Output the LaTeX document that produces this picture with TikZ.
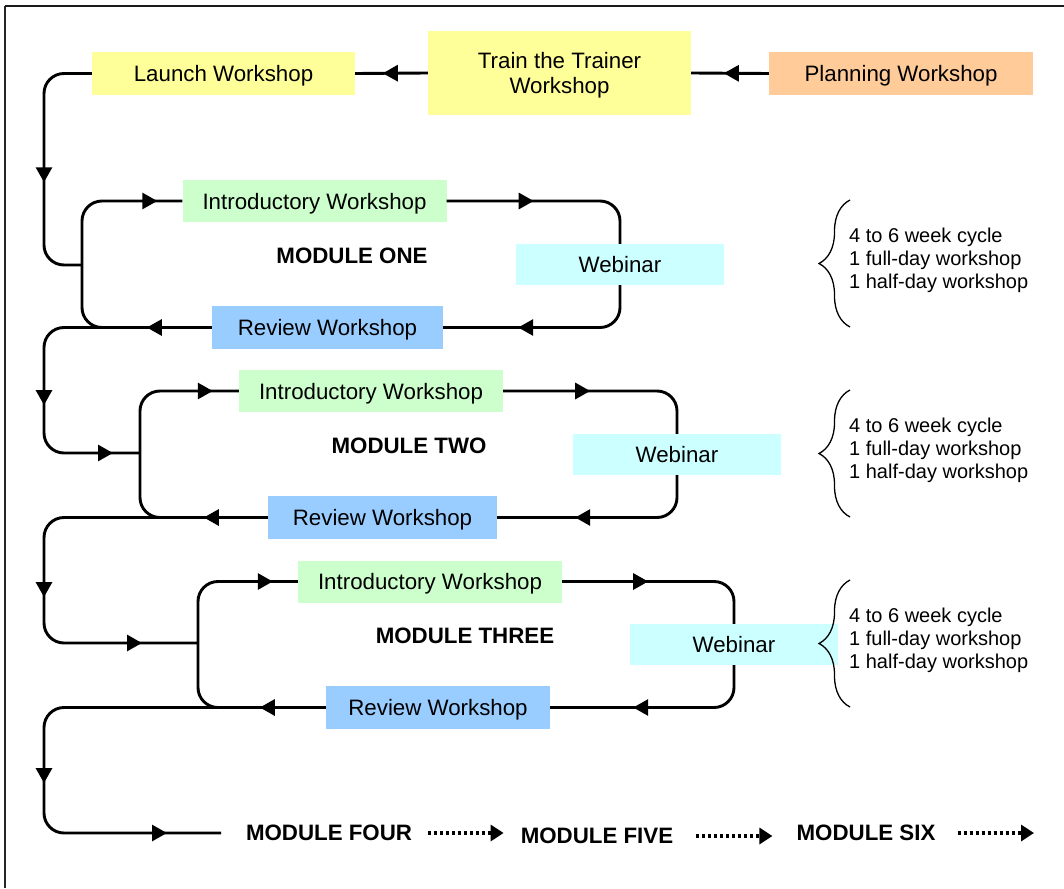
\documentclass[tikz,border=0pt]{standalone}
\usepackage{fontspec}
\setmainfont{Liberation Sans}
\usetikzlibrary{arrows.meta,decorations.markings,decorations.pathreplacing}
\definecolor{cyel}{HTML}{FFFF99}
\definecolor{corg}{HTML}{FFCC99}
\definecolor{cgrn}{HTML}{CCFFCC}
\definecolor{ccyn}{HTML}{CCFFFF}
\definecolor{cblu}{HTML}{99CCFF}
\begin{document}
\begin{tikzpicture}[x=1pt,y=-1pt,
  box/.style={rectangle,inner sep=0pt,align=center,text depth=0pt,font=\fontsize{22.3}{25}\selectfont},
  yelbox/.style={box,fill=cyel},
  orgbox/.style={box,fill=corg},
  intbox/.style={box,fill=cgrn,minimum width=264pt,minimum height=42pt},
  webbox/.style={box,fill=ccyn,minimum width=208pt,minimum height=41pt},
  revbox/.style={box,fill=cblu,minimum height=43pt},
  modlabel/.style={inner sep=0pt,font=\fontsize{22.3}{25}\selectfont\bfseries},
  flow/.style={line width=2.9pt,rounded corners=20pt},
  tip/.style={postaction={decorate,decoration={markings,mark=at position #1 with {\arrow{Triangle[length=15pt,width=16pt]}}}}},
  dotarrow/.style={line width=3.2pt,dash pattern=on 3pt off 3pt,-{Triangle[length=13pt,width=16pt]}},
  brc/.style={decorate,decoration={brace,amplitude=31pt},line width=1.3pt},
  notes/.style={anchor=west,align=left,inner sep=0pt,font=\fontsize{20}{23}\selectfont}
]
\useasboundingbox (0,0) rectangle (1064,888);
% frame
\draw[line width=1.3pt,black!85] (5,888) -- (5,6);
\draw[line width=1.8pt,black!90] (5,6) -- (1064,6);

% top row
\node[yelbox,minimum width=263pt,minimum height=43pt] (launch) at (223.5,73.5) {Launch Workshop};
\node[yelbox,minimum width=263pt,minimum height=84pt] (train) at (559.5,73) {Train the Trainer\\Workshop};
\node[orgbox,minimum width=264pt,minimum height=43pt] (plan) at (901,73.5) {Planning Workshop};
\draw[flow,tip=45pt] (plan.west) -- (train.east);
\draw[flow,tip=45pt] (train.west) -- (launch.east);

% module one
\node[intbox] (intro1) at (314.5,201) {Introductory Workshop};
\node[webbox] (web1) at (620,264.5) {Webinar};
\node[revbox,minimum width=231pt] (rev1) at (327.5,327.5) {Review Workshop};
\node[modlabel] (mod1) at (352,256) {MODULE ONE};
\coordinate (L1) at (82,265);
\coordinate (c1) at (44,265);
\draw[flow,tip=87pt] (intro1.east) -| (web1.north);
\draw[flow,tip=-75pt] (web1.south) |- (rev1.east);
\draw[flow,tip=65pt,tip=-25pt] (rev1.west) -| (L1) |- (intro1.west);
\draw[flow,tip=148pt] (launch.west) -| (c1) -- (L1);

% module two
\node[intbox] (intro2) at (371,391) {Introductory Workshop};
\node[webbox] (web2) at (677,454.5) {Webinar};
\node[revbox,minimum width=229pt] (rev2) at (382.5,517.5) {Review Workshop};
\node[modlabel] (mod2) at (409,446) {MODULE TWO};
\coordinate (L2) at (140,453);
\coordinate (c2) at (44,453);
\coordinate (X1) at (120,327.5);
\draw[flow,tip=87pt] (intro2.east) -| (web2.north);
\draw[flow,tip=-78pt] (web2.south) |- (rev2.east);
\draw[flow,tip=64pt,tip=-26pt] (rev2.west) -| (L2) |- (intro2.west);
\draw[flow,tip=145pt,tip=-27pt] (X1) -| (c2) -- (L2);

% module three
\node[intbox] (intro3) at (430,581.5) {Introductory Workshop};
\node[webbox] (web3) at (734,644.5) {Webinar};
\node[revbox,minimum width=224pt] (rev3) at (438,707.5) {Review Workshop};
\node[modlabel] (mod3) at (465,636) {MODULE THREE};
\coordinate (L3) at (198,643);
\coordinate (c3) at (44,643);
\coordinate (X2) at (178,517.5);
\draw[flow,tip=86pt] (intro3.east) -| (web3.north);
\draw[flow,tip=-83pt] (web3.south) |- (rev3.east);
\draw[flow,tip=66pt,tip=-25pt] (rev3.west) -| (L3) |- (intro3.west);
\draw[flow,tip=205pt,tip=-56pt] (X2) -| (c3) -- (L3);

% to module four
\coordinate (X3) at (236,707.5);
\coordinate (c4) at (44,833);
\coordinate (E4) at (221,833);
\draw[flow,tip=259pt,tip=-54pt] (X3) -| (c4) -- (E4);

% bottom row
\node[modlabel] (m4) at (329,833) {MODULE FOUR};
\node[modlabel] (m5) at (597,836) {MODULE FIVE};
\node[modlabel] (m6) at (866,833) {MODULE SIX};
\coordinate (end6) at (1034,833);
\draw[dotarrow,shorten <=16pt,shorten >=17pt] (m4.east) -- (m4.east -| m5.west);
\draw[dotarrow,shorten <=23pt,shorten >=24pt] (m5.east) -- (m5.east -| m6.west) ;
\draw[dotarrow,shorten <=22pt] (m6.east) -- (end6);

% braces and notes
\draw[brc] (850,327) -- (850,200);
\draw[brc] (850,517) -- (850,390);
\draw[brc] (850,707) -- (850,580);
\node[notes] (n1) at (849,260) {4 to 6 week cycle\\1 full-day workshop\\1 half-day workshop};
\node[notes] (n2) at (849,450) {4 to 6 week cycle\\1 full-day workshop\\1 half-day workshop};
\node[notes] (n3) at (849,640) {4 to 6 week cycle\\1 full-day workshop\\1 half-day workshop};
\end{tikzpicture}
\end{document}
